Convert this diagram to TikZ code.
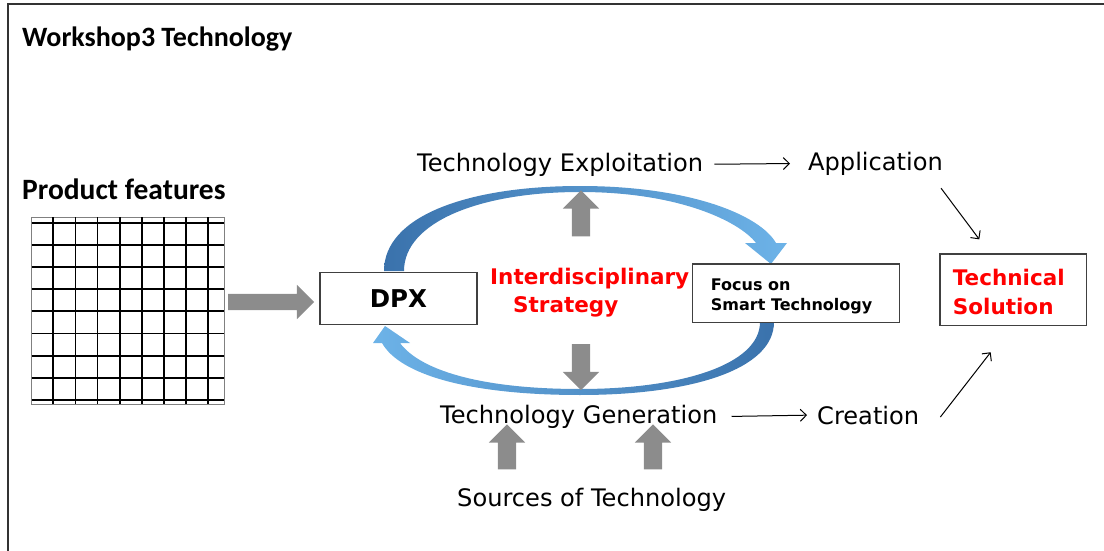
\documentclass[tikz,border=0pt]{standalone}
\usepackage{fontspec}
\setmainfont{DejaVu Sans}
\newfontfamily\titlefont{Carlito}
\usetikzlibrary{shapes.arrows,arrows.meta}
\definecolor{arrowgray}{HTML}{8C8C8C}
\definecolor{loopdark}{HTML}{3A72AC}
\definecolor{looplight}{HTML}{6DB3E8}

\begin{document}
\begin{tikzpicture}[x=1pt,y=-1pt]
% Styles
\tikzset{
  heading/.style={inner sep=0pt, anchor=base west, font=\titlefont\bfseries\fontsize{28}{32}\selectfont},
  plain/.style={inner sep=0pt, anchor=base west, font=\fontsize{24.1}{28}\selectfont},
  box/.style={draw=black!75, line width=1.2pt, fill=white, inner sep=0pt},
  redtext/.style={inner sep=0pt, anchor=base west, align=left, text=red, font=\bfseries\fontsize{21.5}{28.6}\selectfont},
  smalltext/.style={inner sep=0pt, anchor=base west, align=left, font=\bfseries\fontsize{16}{20}\selectfont},
  blockarrow/.style={single arrow, fill=arrowgray, draw=none, inner xsep=0pt, inner ysep=9pt, single arrow head extend=9pt, minimum height=46pt},
  link/.style={-{Straight Barb[length=6pt,width=12pt]}, line width=1pt}
}
\useasboundingbox (0,0) rectangle (1104,551);

% Frame
\draw[line width=2pt, black!80] (8,551) -- (8,4) -- (1104,4);

% Titles
\node[heading] (title) at (22,46.7) {Workshop3 Technology};
\node[heading, font=\titlefont\bfseries\fontsize{29.5}{32}\selectfont] (features) at (22,199) {Product features};

% Feature grid
\draw[black!50, line width=0.6pt] (31.7,217) rectangle (224,404);
\foreach \i in {0,...,7}
  \draw[line width=1.8pt] (53.3+22.1*\i,217) -- (53.3+22.1*\i,404);
\foreach \j in {0,...,8}
  \draw[line width=1.8pt] (31.7,222.7+22.16*\j) -- (224,222.7+22.16*\j);
\node[blockarrow, inner ysep=8pt, minimum height=86pt] (feed) at (267,302) {};

% Loop arrows
\shade[left color=loopdark, right color=looplight]
  (384,271) .. controls (384,215) and (470,186) .. (580,186)
  .. controls (690,186) and (760,215) .. (776,243) -- (787,243) -- (771,264) -- (745,243) -- (756,243)
  .. controls (740,222) and (680,192) .. (580,192)
  .. controls (480,192) and (404,222) .. (404,271) -- cycle;
\shade[left color=looplight, right color=loopdark]
  (774,322) .. controls (774,370) and (690,395) .. (580,395)
  .. controls (470,395) and (400,375) .. (382,343) -- (373,343) -- (385,326) -- (410,343) -- (400,343)
  .. controls (420,370) and (480,389) .. (580,389)
  .. controls (680,389) and (760,365) .. (760,322) -- cycle;

% Boxes
\node[box, minimum width=157pt, minimum height=51.6pt, font=\bfseries\fontsize{24.5}{28}\selectfont] (dpx) at (398.5,298.5) {DPX};
\node[box, minimum width=206.6pt, minimum height=58.3pt] (focus) at (796,293.2) {};
\node[smalltext] (focustext) at (710.7,310.7) {Focus on\\Smart Technology};
\node[box, minimum width=146.7pt, minimum height=71.7pt] (tech) at (1013.3,289.8) {};
\node[redtext] (techtext) at (952.7,314.3) {Technical\\Solution};
\node[redtext] (strategy) at (490,312.7) {Interdisciplinary\\\hspace*{23pt}Strategy};

% Labels
\node[plain] (expl) at (417,171) {Technology Exploitation};
\node[plain] (app) at (808,170) {Application};
\node[plain] (gen) at (440,423.3) {Technology Generation};
\node[plain] (creat) at (817,424) {Creation};
\node[plain] (sources) at (457,506.7) {Sources of Technology};

% Gray arrows
\node[blockarrow, rotate=90] (up) at (581,218) {};
\node[blockarrow, rotate=-90] (down) at (581,362.5) {};
\node[blockarrow, rotate=90, minimum height=45pt] (src1) at (507,451.5) {};
\node[blockarrow, rotate=90, minimum height=45pt] (src2) at (653,451.5) {};

% Links
\draw[link, shorten <=11pt, shorten >=18pt] (expl.east) -- (app.west);
\draw[link] ([xshift=-2pt,yshift=-13pt]app.south east) -- ([xshift=-34pt,yshift=14pt]tech.north);
\draw[link, shorten <=14pt, shorten >=10pt] (gen.east) -- (creat.west);
\draw[link] ([xshift=21pt,yshift=-2pt]creat.east) -- ([xshift=-22.6pt,yshift=-26pt]tech.south);

\end{tikzpicture}
\end{document}
